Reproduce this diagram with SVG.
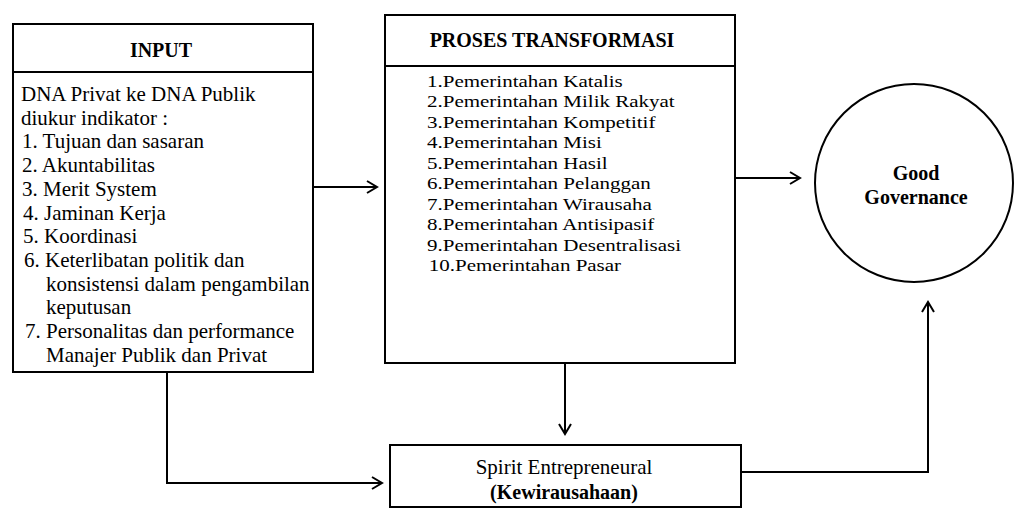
<svg xmlns="http://www.w3.org/2000/svg" width="1014" height="511" viewBox="0 0 1014 511">
<style>
.box{fill:#fff;stroke:#000;stroke-width:2}
.t{font-family:"Liberation Serif","Times New Roman",serif;font-size:21px;fill:#000}
.l{font-family:"Liberation Serif","Times New Roman",serif;font-size:17.5px;fill:#000}
.h{font-family:"Liberation Serif","Times New Roman",serif;font-size:20px;font-weight:bold;fill:#000}
.c{fill:none;stroke:#000;stroke-width:2}
</style>
<defs>
<marker id="arr" markerUnits="userSpaceOnUse" markerWidth="14" markerHeight="16" viewBox="-12 -8 14 16" refX="0" refY="0" orient="auto">
<path d="M-10,-6 L0,0 L-10,6" fill="none" stroke="#000" stroke-width="2"/>
</marker>
</defs>
<rect width="1014" height="511" fill="#fff"/>
<g id="input">
<rect class="box" x="13" y="24" width="300" height="348"/>
<line x1="13" y1="72" x2="313" y2="72" stroke="#000" stroke-width="2"/>
<text class="h" x="161" y="57" text-anchor="middle" font-size="21">INPUT</text>
<text class="t" x="21" y="101">DNA Privat ke DNA Publik</text>
<text class="t" x="21" y="125">diukur indikator :</text>
<text class="t" x="22" y="148">1. Tujuan dan sasaran</text>
<text class="t" x="22" y="172">2. Akuntabilitas</text>
<text class="t" x="22" y="196">3. Merit System</text>
<text class="t" x="23" y="220">4. Jaminan Kerja</text>
<text class="t" x="23" y="243">5. Koordinasi</text>
<text class="t" x="24" y="267">6. Keterlibatan politik dan</text>
<text class="t" x="46" y="291">konsistensi dalam pengambilan</text>
<text class="t" x="46" y="314">keputusan</text>
<text class="t" x="25" y="338">7. Personalitas dan performance</text>
<text class="t" x="46" y="362">Manajer Publik dan Privat</text>
</g>
<g id="proses">
<rect class="box" x="385" y="15" width="350" height="348"/>
<line x1="385" y1="66" x2="735" y2="66" stroke="#000" stroke-width="2"/>
<text class="h" x="552" y="47" text-anchor="middle">PROSES TRANSFORMASI</text>
<g transform="translate(427 0) scale(1.2 1)">
<text class="l" x="0" y="87">1.Pemerintahan Katalis</text>
<text class="l" x="0" y="107.5">2.Pemerintahan Milik Rakyat</text>
<text class="l" x="0" y="128">3.Pemerintahan Kompetitif</text>
<text class="l" x="0" y="148.5">4.Pemerintahan Misi</text>
<text class="l" x="0" y="169">5.Pemerintahan Hasil</text>
<text class="l" x="0" y="189.5">6.Pemerintahan Pelanggan</text>
<text class="l" x="0" y="210">7.Pemerintahan Wirausaha</text>
<text class="l" x="0" y="230.5">8.Pemerintahan Antisipasif</text>
<text class="l" x="0" y="251">9.Pemerintahan Desentralisasi</text>
<text class="l" x="1.5" y="271.5">10.Pemerintahan Pasar</text>
</g>
</g>
<g id="good">
<circle class="box" cx="914" cy="183" r="99"/>
<text class="h" x="916" y="180" text-anchor="middle">Good</text>
<text class="h" x="916" y="204" text-anchor="middle">Governance</text>
</g>
<g id="spirit">
<rect class="box" x="390" y="445" width="351" height="62"/>
<text class="t" x="564" y="474" text-anchor="middle">Spirit Entrepreneural</text>
<text class="h" x="564" y="499" text-anchor="middle">(Kewirausahaan)</text>
</g>
<g id="connectors">
<path class="c" d="M313,187 H377" marker-end="url(#arr)"/>
<path class="c" d="M735,178 H800" marker-end="url(#arr)"/>
<path class="c" d="M565,363 V434" marker-end="url(#arr)"/>
<path class="c" d="M167,372 V483 H382" marker-end="url(#arr)"/>
<path class="c" d="M741,472 H928 V302" marker-end="url(#arr)"/>
</g>
</svg>
